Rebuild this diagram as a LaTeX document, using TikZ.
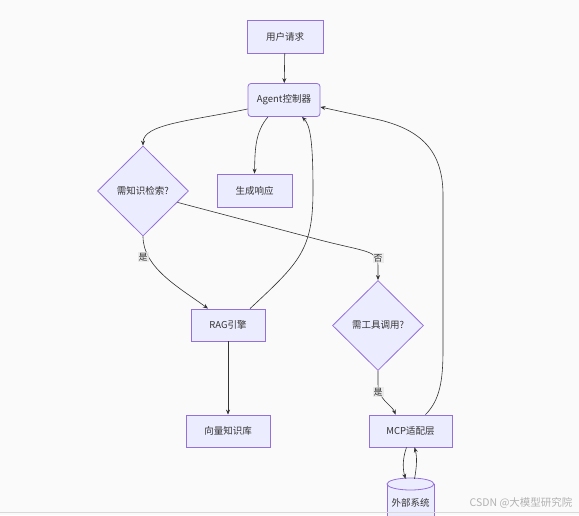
\documentclass[tikz,border=0pt]{standalone}
\usepackage{fontspec}
\setmainfont{Noto Sans CJK SC}
\usetikzlibrary{arrows.meta,shapes.geometric,calc}
\definecolor{nfill}{HTML}{ECECFF}
\definecolor{ndraw}{HTML}{9370DB}
\definecolor{ink}{HTML}{333333}
\definecolor{lblbg}{HTML}{E8E8E8}
\definecolor{bg}{HTML}{FAFAFA}
\begin{document}
\begin{tikzpicture}[x=1pt,y=-1pt,
  every node/.style={font=\fontsize{9.5}{11}\selectfont, text=ink},
  box/.style={draw=ndraw, fill=nfill, line width=0.8pt, minimum width=#1, minimum height=33pt, inner sep=0pt},
  rbox/.style={box=#1, rounded corners=3pt},
  dia/.style={diamond, draw=ndraw, fill=nfill, line width=0.8pt, minimum width=91pt, minimum height=90pt, inner sep=0pt},
  dbline/.style={draw=ndraw, line width=0.8pt},
  link/.style={draw=ink, line width=0.6pt, -{Stealth[length=5pt,width=4pt]}},
  lbl/.style={fill=lblbg, fill opacity=0.8, text opacity=1, inner sep=1pt, font=\fontsize{9}{10}\selectfont}
]
\fill[bg] (0,0) rectangle (579,515);
\useasboundingbox (0,0) rectangle (579,515);

% cylinder body for the external system
\fill[nfill] (387,484) rectangle (434,530);
\draw[dbline] (387,484) -- (387,530);
\draw[dbline] (434,484) -- (434,530);
\filldraw[dbline, fill=nfill] (410.5,484) ellipse (23.5 and 6);

\node[box=76pt] (u) at (285,36.5) {用户请求};
\node[rbox=72pt] (a) at (284,100) {Agent控制器};
\node[dia] (d1) at (143,191) {需知识检索?};
\node[box=75pt] (g) at (254.5,190.5) {生成响应};
\node[box=74pt, minimum height=32pt] (r) at (228,325) {RAG引擎};
\node[dia] (d2) at (378,325.5) {需工具调用?};
\node[box=84pt, minimum height=32pt] (v) at (228,431) {向量知识库};
\node[box=83pt, minimum height=32pt] (m) at (410.5,431) {MCP适配层};
\node[minimum width=47pt, minimum height=50pt, inner sep=0pt] (e) at (410.5,503) {外部系统};

\draw[link] (u) -- (a);
\draw[link] ([yshift=-9pt]a.west) .. controls (190,121) and (143,124) .. (d1.north);
\draw[link] ([xshift=-16pt]a.south) .. controls (255,132) and (255,150) .. (g.north);
\draw[link] (d1.south) .. controls (143,268) and (180,288) .. ([xshift=-20pt]r.north);
\draw[link] ($(d1.east)!0.25!(d1.south)$) -- (320,240) .. controls (366,252) and (378,250) .. (378,266) -- (d2.north);
\draw[link] ([xshift=22pt]r.north) .. controls (300,262) and (313,250) .. (313,190) .. controls (313,140) and (310,125) .. ([xshift=18pt]a.south);
\draw[link] (r) -- (v);
\draw[link] (d2.south) -- (378,384) .. controls (378,400) and (392,405) .. ([xshift=-15pt]m.north);
\draw[link] ([xshift=15pt]m.north) .. controls (440,400) and (443,380) .. (443,350) -- (443,195) .. controls (443,150) and (420,130) .. (380,120) -- ([yshift=-7pt]a.east);
\draw[link] ([xshift=-4pt]m.south) .. controls (402,460) and (403,470) .. ([xshift=-5pt,yshift=-1pt]e.north);
\draw[link] ([xshift=4pt,yshift=-1pt]e.north) .. controls (417,466) and (417,456) .. ([xshift=4pt]m.south);

\node[lbl] (l1) at (143,257) {是};
\node[lbl] (l2) at (378,258) {否};
\node[lbl] (l3) at (378,392) {是};

\draw[black!15, line width=0.6pt] (0,512.5) -- (579,512.5);
\node[anchor=east, text=black!30, font=\fontsize{10.5}{12}\selectfont] (wm) at (576,503) {CSDN @大模型研究院};
\end{tikzpicture}
\end{document}
